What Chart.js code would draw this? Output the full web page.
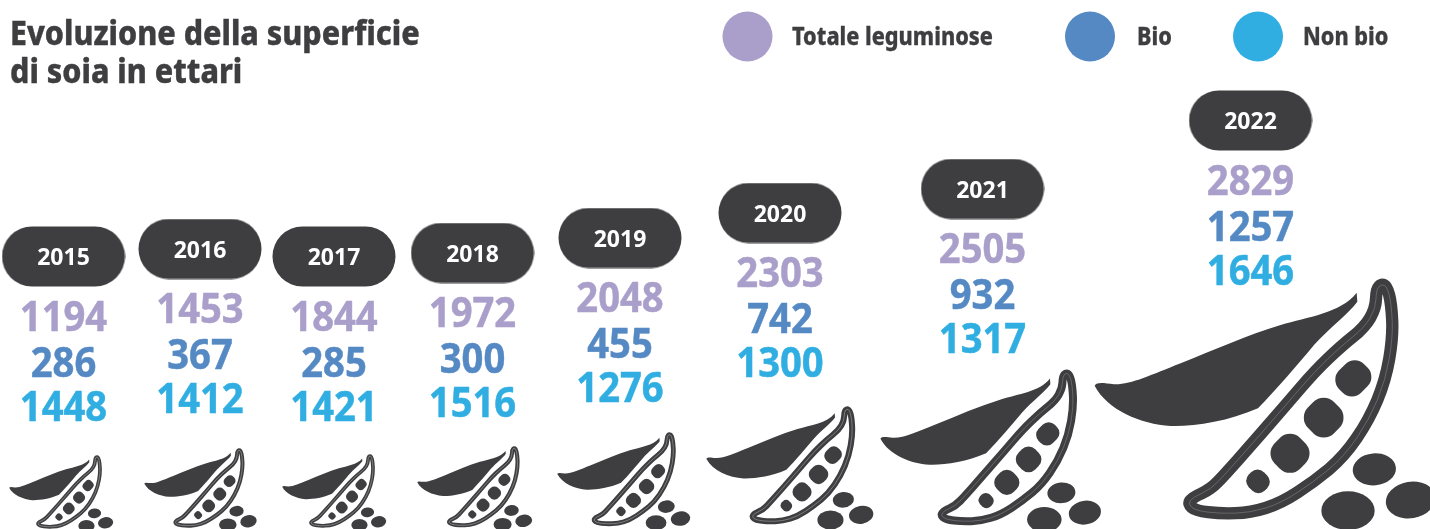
<!DOCTYPE html>
<html lang="it">
<head>
<meta charset="utf-8">
<title>Evoluzione della superficie di soia in ettari</title>
<script src="https://cdn.jsdelivr.net/npm/chart.js@4/dist/chart.umd.min.js"></script>
<style>
  html, body { margin: 0; padding: 0; background: #fff; }
  canvas { display: block; }
</style>
</head>
<body>
<canvas id="soiaChart" width="1430" height="529"></canvas>
<script>
// Dati
const years = ['2015', '2016', '2017', '2018', '2019', '2020', '2021', '2022'];
const totaleLeguminose = [1194, 1453, 1844, 1972, 2048, 2303, 2505, 2829];
const bio = [286, 367, 285, 300, 455, 742, 932, 1257];
const nonBio = [1448, 1412, 1421, 1516, 1276, 1300, 1317, 1646];
const seriesLabels = ['Totale leguminose', 'Bio', 'Non bio'];
const titleLines = ['Evoluzione della superficie', 'di soia in ettari'];

// Impaginazione dell'infografica (in pixel della pagina)
const columnX = [63.5, 200, 334, 472.5, 620, 780, 982.5, 1250.5];
const pillY = [256.5, 249, 256.5, 253, 238, 213, 189, 120.5];
const podLeft = [9, 144, 282, 417, 557, 706, 880, 1094];
const podTop = [455, 448, 454, 446, 432, 406, 369, 278];
const podScale = [0.305, 0.33, 0.305, 0.337, 0.39, 0.49, 0.647, 1];
const legendDotX = [747.5, 1090, 1258];
const legendTextX = [792, 1137, 1303];

const DARK = '#3e3e40';
const COLORS = ['#a99fca', '#5589c4', '#30aee2'];
const FONT = '"Noto Sans", sans-serif';

const pillSprite = () => {
  const c = document.createElement('canvas');
  c.width = 124;
  c.height = 61;
  const g = c.getContext('2d');
  g.fillStyle = DARK;
  g.beginPath();
  g.roundRect(0.5, 0.5, 123, 60, 30);
  g.fill();
  return c;
};

// Baccello disegnato su uno sprite: coordinate in unità del baccello 2022 (x3)
const POD_W = 1030;
const POD_H = 757;
const podOutline = [
  [887, 58], [885, 115], [852, 172], [782, 228], [703, 303], [613, 408], [513, 523], [433, 613],
  [390, 658], [335, 683], [322, 702], [345, 722], [420, 731], [510, 728], [600, 700], [700, 635],
  [790, 560], [865, 450], [915, 330], [937, 200], [932, 100], [919, 50], [903, 42],
];
const seeds = [
  [818, 325, 94, 106, 40], [729, 443, 110, 110, 44], [628, 550, 108, 108, 43], [532, 634, 68, 64, 27],
];
const beans = [
  [881, 598, 65, 48, -0.09], [802, 722, 80, 58, 0], [990, 690, 75, 55, -0.17],
];

const podSprite = (scale) => {
  const k = scale / 3;
  const c = document.createElement('canvas');
  c.width = Math.ceil(POD_W * k);
  c.height = Math.ceil(POD_H * k);
  const g = c.getContext('2d');
  g.scale(k, k);
  g.translate(-40, -24);
  g.fillStyle = DARK;

  // foglia
  g.beginPath();
  g.moveTo(42, 347);
  g.bezierCurveTo(50, 335, 70, 340, 100, 343);
  g.bezierCurveTo(150, 345, 210, 315, 300, 280);
  g.bezierCurveTo(400, 240, 500, 195, 600, 165);
  g.bezierCurveTo(680, 140, 780, 130, 828, 68);
  g.lineTo(830, 95);
  g.bezierCurveTo(800, 135, 750, 170, 700, 225);
  g.bezierCurveTo(650, 285, 590, 355, 532, 415);
  g.bezierCurveTo(440, 455, 340, 470, 270, 468);
  g.bezierCurveTo(180, 462, 80, 420, 42, 347);
  g.closePath();
  g.fill();

  // contorno del baccello
  const n = podOutline.length;
  const mid = (a, b) => [(a[0] + b[0]) / 2, (a[1] + b[1]) / 2];
  const start = mid(podOutline[n - 1], podOutline[0]);
  g.beginPath();
  g.moveTo(start[0], start[1]);
  podOutline.forEach((p, i) => {
    const m = mid(p, podOutline[(i + 1) % n]);
    g.quadraticCurveTo(p[0], p[1], m[0], m[1]);
  });
  g.closePath();
  g.lineJoin = 'round';
  g.strokeStyle = DARK;
  g.lineWidth = 37;
  g.stroke();
  g.strokeStyle = scale > 0.6 ? 'rgba(255,255,255,0.3)' : 'rgba(255,255,255,0.45)';
  g.lineWidth = Math.max(2, 0.7 / k);
  g.stroke();

  // semi dentro il baccello
  seeds.forEach(([x, y, w, h, r]) => {
    g.save();
    g.translate(x, y);
    g.rotate(Math.PI / 4);
    g.beginPath();
    g.roundRect(-w / 2, -h / 2, w, h, r);
    g.fill();
    g.restore();
  });

  // semi sciolti
  beans.forEach(([x, y, rx, ry, rot]) => {
    g.beginPath();
    g.ellipse(x, y, rx, ry, rot, 0, Math.PI * 2);
    g.fill();
  });
  return c;
};

const podSprites = podScale.map(podSprite);

const drawText = (ctx, text, x, y, style) => {
  ctx.save();
  ctx.translate(x, y);
  ctx.scale(style.stretch, 1);
  ctx.font = `${style.weight} ${style.size}px ${FONT}`;
  ctx.fillStyle = style.color;
  ctx.strokeStyle = style.color;
  ctx.lineWidth = style.extra;
  ctx.lineJoin = 'round';
  ctx.textAlign = style.align;
  ctx.textBaseline = 'alphabetic';
  ctx.fillText(text, 0, 0);
  if (style.extra > 0) ctx.strokeText(text, 0, 0);
  ctx.restore();
};

const titleStyle = { weight: 800, size: 34, color: DARK, stretch: 0.895, extra: 0.4, align: 'left' };
const legendStyle = { weight: 800, size: 25, color: DARK, stretch: 0.865, extra: 0.3, align: 'left' };

// Scrive anni, valori, titolo e legenda sopra ai punti del grafico
const infographicText = {
  id: 'infographicText',
  afterDatasetsDraw(chart) {
    const { ctx } = chart;
    chart.data.datasets.forEach((ds, i) => {
      if (!ds.texts) return;
      chart.getDatasetMeta(i).data.forEach((pt, j) => {
        drawText(ctx, String(ds.texts[j]), pt.x, pt.y + ds.textDrop, ds.textStyle);
      });
    });
    titleLines.forEach((line, i) => {
      drawText(ctx, line, 10, 45 + i * 37.5, titleStyle);
    });
    seriesLabels.forEach((label, i) => {
      drawText(ctx, label, legendTextX[i], 45, legendStyle);
    });
  },
};

const points = (offset) => columnX.map((x, i) => ({ x, y: pillY[i] + offset }));
const valueDataset = (label, values, offset, color) => ({
  label,
  data: points(offset),
  pointRadius: 0,
  texts: values,
  textDrop: 0,
  textStyle: { weight: 700, size: 42, color, stretch: 0.91, extra: 0.5, align: 'center' },
});

const pill = pillSprite();

new Chart(document.getElementById('soiaChart'), {
  type: 'scatter',
  data: {
    datasets: [
      {
        label: 'Baccelli',
        data: podSprites.map((s, i) => ({ x: podLeft[i] + s.width / 2, y: podTop[i] + s.height / 2 })),
        pointStyle: podSprites,
        pointRadius: 10,
      },
      {
        label: 'Anni',
        data: points(0),
        pointStyle: pill,
        pointRadius: 10,
        texts: years,
        textDrop: 8.5,
        textStyle: { weight: 700, size: 23, color: '#ffffff', stretch: 1, extra: 0, align: 'center' },
      },
      valueDataset(seriesLabels[0], totaleLeguminose, 74, COLORS[0]),
      valueDataset(seriesLabels[1], bio, 120, COLORS[1]),
      valueDataset(seriesLabels[2], nonBio, 164, COLORS[2]),
      {
        label: 'Legenda',
        data: legendDotX.map((x) => ({ x, y: 36.5 })),
        pointRadius: 25,
        pointBackgroundColor: COLORS,
        pointBorderWidth: 0,
      },
    ],
  },
  options: {
    responsive: false,
    animation: false,
    layout: { padding: 0, autoPadding: false },
    clip: false,
    plugins: {
      legend: { display: false },
      title: { display: false },
      tooltip: { enabled: false },
    },
    scales: {
      x: { type: 'linear', min: 0, max: 1430, display: false },
      y: { type: 'linear', min: 0, max: 529, reverse: true, display: false },
    },
  },
  plugins: [infographicText],
});
</script>
</body>
</html>
